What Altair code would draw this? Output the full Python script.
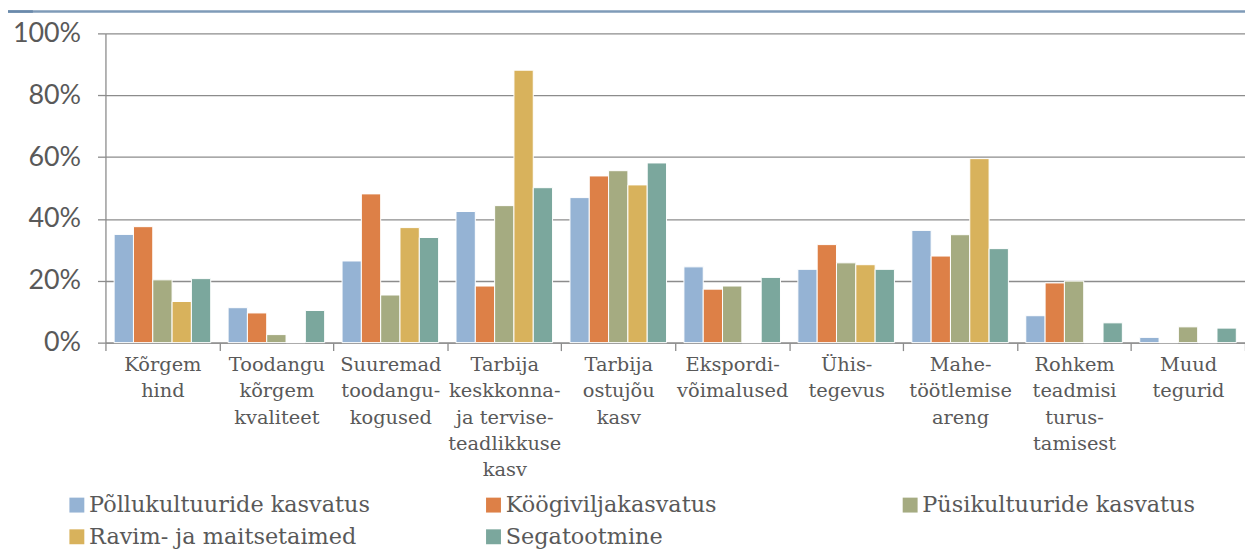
import altair as alt
import pandas as pd

categories = [
    "Kõrgem|hind",
    "Toodangu|kõrgem|kvaliteet",
    "Suuremad|toodangu-|kogused",
    "Tarbija|keskkonna-|ja tervise-|teadlikkuse|kasv",
    "Tarbija|ostujõu|kasv",
    "Ekspordi-|võimalused",
    "Ühis-|tegevus",
    "Mahe-|töötlemise|areng",
    "Rohkem|teadmisi|turus-|tamisest",
    "Muud|tegurid",
]
series = [
    "Põllukultuuride kasvatus",
    "Köögiviljakasvatus",
    "Püsikultuuride kasvatus",
    "Ravim- ja maitsetaimed",
    "Segatootmine",
]
colors = ["#95B3D4", "#DD8047", "#A5AB81", "#D8B25C", "#7BA79D"]

pollu = [0.350, 0.113, 0.264, 0.424, 0.469, 0.245, 0.237, 0.363, 0.087, 0.017]
koogi = [0.375, 0.096, 0.481, 0.183, 0.539, 0.173, 0.317, 0.280, 0.193, 0.0]
pusi = [0.203, 0.026, 0.154, 0.443, 0.556, 0.183, 0.258, 0.349, 0.199, 0.051]
ravim = [0.133, 0.0, 0.372, 0.881, 0.510, 0.0, 0.252, 0.595, 0.0, 0.0]
sega = [0.207, 0.104, 0.340, 0.501, 0.581, 0.211, 0.237, 0.304, 0.064, 0.047]

rows = []
for s, vals in zip(series, [pollu, koogi, pusi, ravim, sega]):
    for c, v in zip(categories, vals):
        rows.append({"cat": c, "series": s, "value": v})
df = pd.DataFrame(rows)

bars = alt.Chart(df).mark_bar(stroke="white", strokeWidth=1).encode(
    x=alt.X(
        "cat:N",
        sort=categories,
        scale=alt.Scale(paddingInner=0, paddingOuter=0),
        axis=alt.Axis(
            title=None,
            labelExpr="split(datum.label, '|')",
            labelAngle=0,
            tickBand="extent",
            tickSize=8,
            tickColor="#8c8c8c",
            tickWidth=1.3,
            domainColor="#8c8c8c",
            domainWidth=1.3,
            labelFont="DejaVu Serif",
            labelFontSize=19.5,
            labelColor="#595959",
            labelLineHeight=26.5,
            labelPadding=5,
            labelLimit=300,
            grid=False,
        ),
    ),
    xOffset=alt.XOffset(
        "series:N",
        sort=series,
        scale=alt.Scale(paddingInner=0, paddingOuter=0.45),
    ),
    y=alt.Y(
        "value:Q",
        scale=alt.Scale(domain=[0, 1], nice=False),
        axis=alt.Axis(
            title=None,
            format=".0%",
            values=[0, 0.2, 0.4, 0.6, 0.8, 1.0],
            grid=True,
            gridColor="#8c8c8c",
            gridWidth=1.3,
            tickSize=8,
            tickColor="#8c8c8c",
            tickWidth=1.3,
            domainColor="#8c8c8c",
            domainWidth=1.3,
            labelFont="Lato",
            labelFontSize=27,
            labelColor="#595959",
            labelPadding=17,
        ),
    ),
    color=alt.Color(
        "series:N",
        sort=series,
        scale=alt.Scale(domain=series, range=colors),
        legend=alt.Legend(
            title=None,
            orient="none",
            direction="horizontal",
            legendX=-40,
            legendY=463,
            columns=3,
            gridAlign="all",
            columnPadding=112,
            rowPadding=9,
            symbolType="square",
            symbolSize=225,
            symbolStrokeWidth=0,
            labelFont="DejaVu Serif",
            labelFontSize=22.5,
            labelColor="#595959",
            labelOffset=1,
            labelLimit=400,
        ),
    ),
)

topline_df = pd.DataFrame({"a": [0]})
topline = alt.Chart(topline_df).mark_rule(color="#7F9BB8", strokeWidth=2.5).encode(
    x=alt.value(-99), x2=alt.value(1146), y=alt.value(-22)
)
topline_left = alt.Chart(topline_df).mark_rule(color="#6A89AB", strokeWidth=2.5).encode(
    x=alt.value(-99), x2=alt.value(-73), y=alt.value(-22)
)

chart = alt.layer(bars, topline, topline_left).properties(
    width=1146,
    height=311,
    autosize=alt.AutoSizeParams(type="none"),
    padding={"left": 98, "top": 24, "right": 0, "bottom": 206},
).configure_view(stroke=None)

chart.save("out.html", embed_options={"renderer": "svg", "actions": False})
